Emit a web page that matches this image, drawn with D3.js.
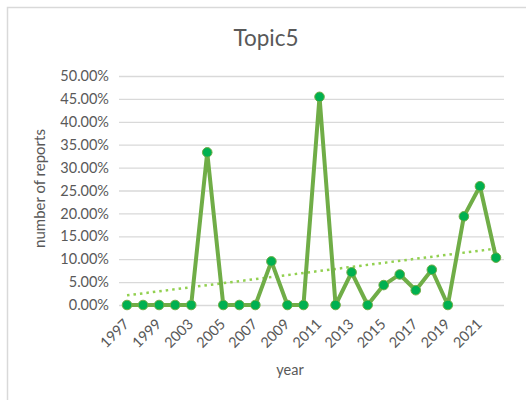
<!DOCTYPE html>
<html>
<head>
<meta charset="utf-8">
<script src="https://cdn.jsdelivr.net/npm/d3@7"></script>
<style>
  html, body { margin: 0; padding: 0; background: #fff; }
  svg { display: block; font-family: Lato, "Open Sans", sans-serif; }
</style>
</head>
<body>
<div id="chart"></div>
<script>
// categories (year) and share of reports per year
const years = [
    "1997", "1998", "1999", "2002", "2003", "2004", "2005", "2006",
    "2007", "2008", "2009", "2010", "2011", "2012", "2013", "2014",
    "2015", "2016", "2017", "2018", "2019", "2020", "2021", "2022",
];
const shares = [
    0, 0, 0, 0, 0, 0.3333, 0, 0,
    0, 0.0952, 0, 0, 0.4545, 0, 0.0714, 0,
    0.0435, 0.0667, 0.0323, 0.0769, 0, 0.1935, 0.2593, 0.1034,
];
const yTicks = [0, 0.05, 0.1, 0.15, 0.2, 0.25, 0.3, 0.35, 0.4, 0.45, 0.5];
const xLabels = ["1997", "1999", "2003", "2005", "2007", "2009", "2011", "2013", "2015", "2017", "2019", "2021"];

const width = 526;
const height = 400;
const margin = { top: 76, right: 22, bottom: 95, left: 119 };

const svg = d3.select("#chart")
    .append("svg")
    .attr("width", width)
    .attr("height", height);

// chart area border (only top/left visible in the crop)
svg.append("path")
    .attr("d", `M7.5,${height} V7.5 H${width}`)
    .attr("fill", "none")
    .attr("stroke", "#d9d9d9")
    .attr("stroke-width", 1.5);

const x = d3.scaleBand()
    .domain(years)
    .range([margin.left, width - margin.right]);

const y = d3.scaleLinear()
    .domain([0, 0.5])
    .range([height - margin.bottom, margin.top]);

const cx = (d) => x(d) + x.bandwidth() / 2;

// gridlines + y labels
const yAxis = d3.axisLeft(y)
    .tickValues(yTicks)
    .tickFormat(d3.format(".2%"))
    .tickSize(-(width - margin.left - margin.right))
    .tickPadding(10);

svg.append("g")
    .attr("transform", `translate(${margin.left},0)`)
    .call(yAxis)
    .call((g) => g.select(".domain").remove())
    .call((g) => g.selectAll("line").attr("stroke", "#d9d9d9").attr("stroke-width", 1.3))
    .call((g) => g.selectAll("text")
        .attr("fill", "#595959")
        .attr("font-size", 14.5)
        .attr("font-family", "Lato, sans-serif"));

// x labels
const xAxis = d3.axisBottom(x)
    .tickValues(xLabels)
    .tickSize(0)
    .tickPadding(0);

svg.append("g")
    .attr("transform", `translate(0,${height - margin.bottom})`)
    .call(xAxis)
    .call((g) => g.select(".domain").remove())
    .call((g) => g.selectAll("text")
        .attr("fill", "#595959")
        .attr("font-size", 14.5)
        .attr("font-family", "Lato, sans-serif")
        .attr("text-anchor", "end")
        .attr("dy", null)
        .attr("y", 0)
        .attr("transform", "translate(3,20) rotate(-45)"));

// linear trendline (least squares over category index)
const n = shares.length;
const xs = d3.range(n);
const mx = d3.mean(xs);
const my = d3.mean(shares);
const slope = d3.sum(xs, (i) => (i - mx) * (shares[i] - my)) / d3.sum(xs, (i) => (i - mx) ** 2);
const intercept = my - slope * mx;

svg.append("line")
    .attr("x1", cx(years[0]))
    .attr("y1", y(intercept))
    .attr("x2", cx(years[n - 1]))
    .attr("y2", y(intercept + slope * (n - 1)))
    .attr("stroke", "#92d050")
    .attr("stroke-width", 2.5)
    .attr("stroke-dasharray", "2.5 4");

// series line
const line = d3.line()
    .x((d, i) => cx(years[i]))
    .y((d) => y(d));

svg.append("path")
    .datum(shares)
    .attr("d", line)
    .attr("fill", "none")
    .attr("stroke", "#70ad47")
    .attr("stroke-width", 4)
    .attr("stroke-linejoin", "round");

// markers
svg.append("g")
    .selectAll("circle")
    .data(shares)
    .join("circle")
    .attr("cx", (d, i) => cx(years[i]))
    .attr("cy", (d) => y(d))
    .attr("r", 4.8)
    .attr("fill", "#00b050")
    .attr("stroke", "#70ad47")
    .attr("stroke-width", 1);

// title
svg.append("text")
    .attr("x", 266)
    .attr("y", 46)
    .attr("text-anchor", "middle")
    .attr("fill", "#595959")
    .attr("font-size", 22.5)
    .text("Topic5");

// axis titles
svg.append("text")
    .attr("transform", `translate(45,${(margin.top + height - margin.bottom) / 2 - 2}) rotate(-90)`)
    .attr("text-anchor", "middle")
    .attr("fill", "#595959")
    .attr("font-size", 15)
    .text("number of reports");

svg.append("text")
    .attr("x", 290)
    .attr("y", 375)
    .attr("text-anchor", "middle")
    .attr("fill", "#595959")
    .attr("font-size", 14.5)
    .text("year");
</script>
</body>
</html>
